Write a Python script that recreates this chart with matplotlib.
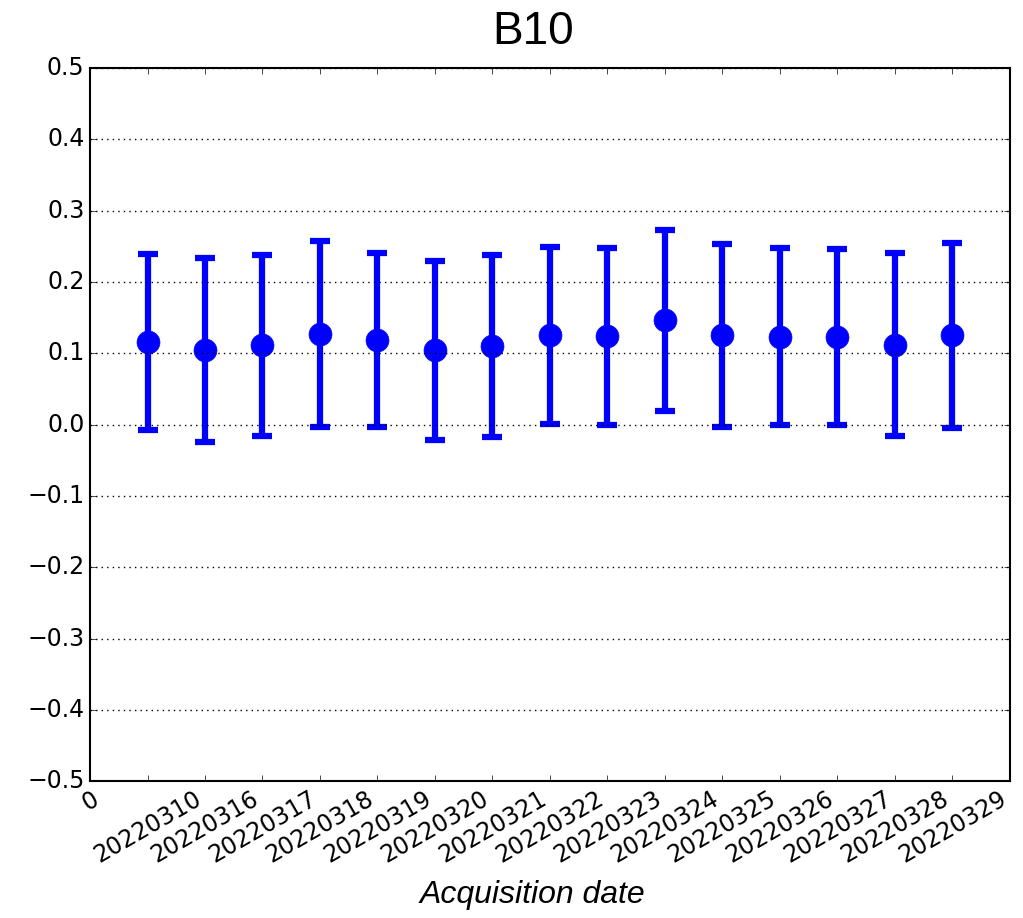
import matplotlib
matplotlib.use('Agg')
from matplotlib import pyplot as plt

# Acquisition dates and band B10 statistics (mean and spread)
dates = ['20220310', '20220316', '20220317', '20220318', '20220319',
         '20220320', '20220321', '20220322', '20220323', '20220324',
         '20220325', '20220326', '20220327', '20220328', '20220329']
means = [0.116, 0.104, 0.111, 0.127, 0.118, 0.104, 0.110, 0.125, 0.124,
         0.146, 0.125, 0.123, 0.123, 0.112, 0.125]
errors = [0.123, 0.129, 0.127, 0.130, 0.122, 0.126, 0.128, 0.124, 0.124,
          0.127, 0.128, 0.124, 0.123, 0.128, 0.130]
tick_labels = ['0'] + dates

plt.style.use('classic')
plt.rcParams['axes.linewidth'] = 1.5
fig = plt.figure(figsize=(10.23, 9.18), dpi=100)
ax = fig.add_axes([0.088, 0.149, 0.899, 0.777])

x = list(range(1, len(dates) + 1))
ax.errorbar(x, means, yerr=errors, fmt='o', color='blue', ecolor='blue',
            markersize=16.5, markeredgecolor='blue', elinewidth=4.5,
            capsize=7, capthick=4.5)

ax.set_xlim(0, len(dates) + 1)
ax.set_ylim(-0.5, 0.5)
ax.set_yticks([-0.5, -0.4, -0.3, -0.2, -0.1, 0.0, 0.1, 0.2, 0.3, 0.4, 0.5])
ax.set_xticks(range(len(tick_labels)))
ax.set_xticklabels(tick_labels, rotation=30, ha='center')
ax.tick_params(labelsize=17)

ax.yaxis.grid(True, linestyle=':', color='black', linewidth=1)
ax.xaxis.grid(False)

ax.set_title('B10', family='Liberation Sans', fontsize=33, pad=17, x=0.4815)
ax.set_xlabel('Acquisition date', family='Liberation Sans', style='italic',
              fontsize=23)
ax.xaxis.set_label_coords(0.4815, -0.138)
ax.xaxis.label.set_va('top')

fig.savefig('out.png', dpi=100, facecolor='white')
plt.close(fig)
